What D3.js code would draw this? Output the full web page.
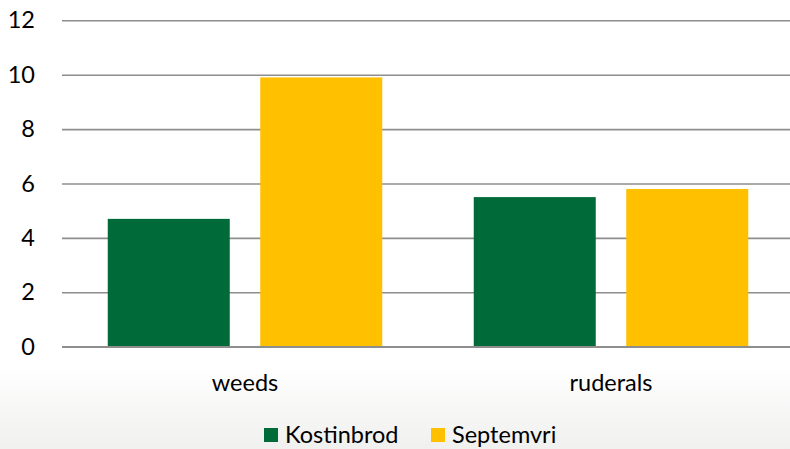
<!DOCTYPE html>
<html><head><meta charset="utf-8">
<script src="https://cdn.jsdelivr.net/npm/d3@7"></script>
<style>html,body{margin:0;padding:0;background:#fff;}svg{display:block;}</style>
</head><body>
<svg id="c" width="790" height="449"></svg>
<script>
const categories = ["weeds", "ruderals"];
const seriesNames = ["Kostinbrod", "Septemvri"];
const kostinbrod = [4.7, 5.5];
const septemvri = [9.9, 5.8];
const yTicks = [0, 2, 4, 6, 8, 10, 12];
const colors = ["#006A38", "#FFC000"];

(function () {
const W = 790, H = 449;
const svg = d3.select("#c");
const font = "Lato, 'Open Sans', sans-serif";
const fs = 23.5;

const defs = svg.append("defs");
const grad = defs.append("linearGradient").attr("id","bg").attr("x1",0).attr("x2",0).attr("y1",0).attr("y2",1);
grad.append("stop").attr("offset","0%").attr("stop-color","#ffffff");
grad.append("stop").attr("offset","100%").attr("stop-color","#f0f0ef");
svg.append("rect").attr("width",W).attr("height",H).attr("fill","#fff");
svg.append("rect").attr("x",0).attr("y",365).attr("width",W).attr("height",H-365).attr("fill","url(#bg)");

const pLeft = 62, pRight = 794, pTop = 20.3, pBottom = 346.7;
const y = d3.scaleLinear().domain([0, 12]).range([pBottom, pTop]);
const x0 = d3.scaleBand().domain(categories).range([pLeft, pRight]).paddingInner(0).paddingOuter(0);
const x1 = d3.scaleBand().domain(seriesNames).range([0, x0.bandwidth()]).paddingInner(0.2).paddingOuter(0.3);

const yAxis = d3.axisLeft(y).tickValues(yTicks).tickSize(-(790 - pLeft)).tickFormat(d3.format("d")).tickPadding(27);
const ga = svg.append("g").attr("transform", `translate(${pLeft},0)`).call(yAxis);
ga.select(".domain").remove();
ga.selectAll(".tick line").attr("stroke", "#8e8e8e").attr("stroke-width", 1.6);
ga.selectAll(".tick text").attr("font-family", font).attr("font-size", fs).attr("fill", "#000");

const data = categories.map((c, i) => ({ cat: c, vals: [kostinbrod[i], septemvri[i]] }));
const groups = svg.append("g").selectAll("g").data(data).join("g")
  .attr("transform", d => `translate(${x0(d.cat)},0)`);
groups.selectAll("rect").data(d => d.vals.map((v, j) => ({ s: seriesNames[j], v, j })))
  .join("rect")
  .attr("x", d => x1(d.s))
  .attr("width", x1.bandwidth())
  .attr("y", d => y(d.v))
  .attr("height", d => y(0) - y(d.v))
  .attr("fill", d => colors[d.j]);

svg.append("line").attr("x1", pLeft).attr("x2", 790).attr("y1", y(0)).attr("y2", y(0))
  .attr("stroke", "#8e8e8e").attr("stroke-width", 1.6);

svg.append("g").selectAll("text").data(categories).join("text")
  .attr("x", d => x0(d) + x1("Kostinbrod") + (x1("Septemvri") + x1.bandwidth() - x1("Kostinbrod")) / 2)
  .attr("y", 391)
  .attr("text-anchor", "middle")
  .attr("font-family", font).attr("font-size", fs).attr("fill", "#000")
  .text(d => d);

const legendX = [264, 431];
const lg = svg.append("g").selectAll("g").data(seriesNames).join("g")
  .attr("transform", (d, i) => `translate(${legendX[i]},428)`);
lg.append("rect").attr("width", 14).attr("height", 14).attr("fill", (d, i) => colors[i]);
lg.append("text").attr("x", 21).attr("y", 15)
  .attr("font-family", font).attr("font-size", fs).attr("fill", "#000").text(d => d);
})();
</script>
</body></html>
